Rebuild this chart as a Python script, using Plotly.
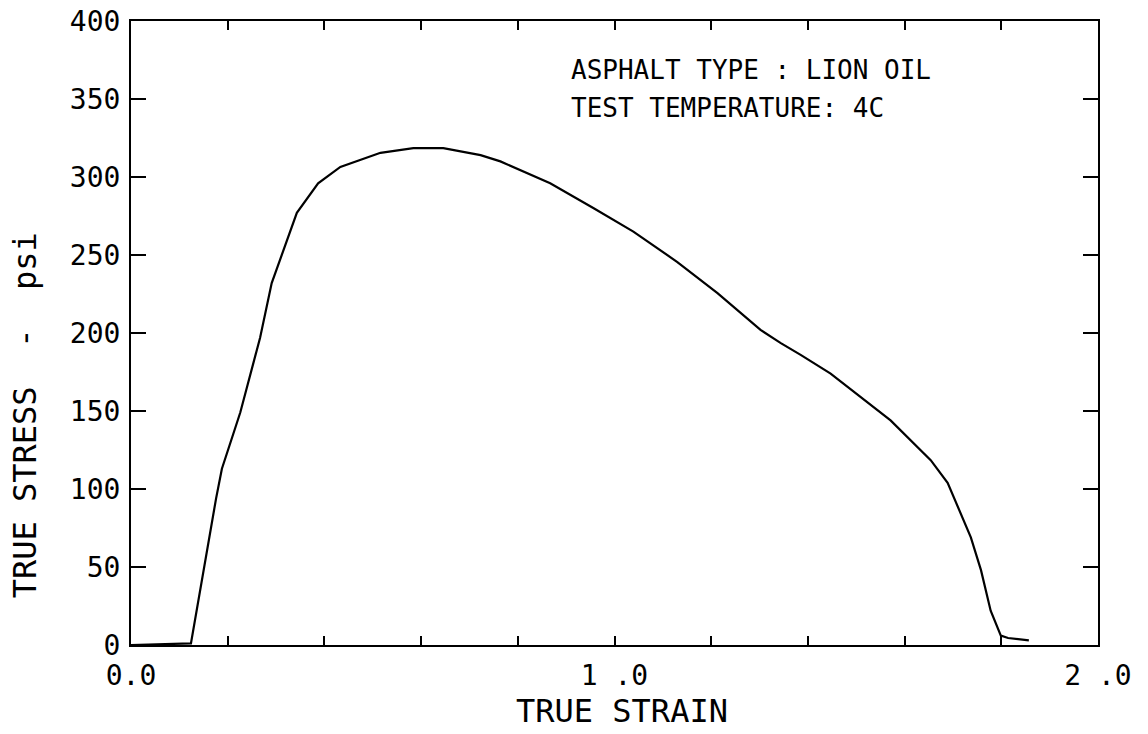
import plotly.graph_objects as go

# Data
strain = [0.0, 0.124, 0.176, 0.188, 0.226, 0.267, 0.291, 0.343, 0.387, 0.433,
          0.516, 0.584, 0.646, 0.723, 0.764, 0.867, 0.957, 1.039, 1.130, 1.213,
          1.302, 1.344, 1.385, 1.447, 1.571, 1.654, 1.689, 1.737, 1.758, 1.778,
          1.799, 1.814, 1.857]
stress = [0, 1, 94, 113, 149, 197, 232, 277, 296, 306.5,
          315.5, 318.5, 318.5, 314, 310, 296, 280, 265, 245.5, 225.5,
          202, 193.5, 186, 174, 144, 118.5, 104, 69, 48, 22,
          6, 4.5, 3]

x_tickvals = [0.0, 0.2, 0.4, 0.6, 0.8, 1.0, 1.2, 1.4, 1.6, 1.8, 2.0]
x_ticktext = ["0.0", "", "", "", "", "1 .0", "", "", "", "", "2 .0"]
y_tickvals = [0, 50, 100, 150, 200, 250, 300, 350, 400]
y_ticktext = ["0", "50", "100", "150", "200", "250", "300", "350", "400"]

info_lines = ["ASPHALT TYPE : LION OIL", "TEST TEMPERATURE: 4C"]
x_title = "TRUE STRAIN"
y_title = "TRUE STRESS  -  psi"

FONT = "DejaVu Sans Mono"

fig = go.Figure()
fig.add_trace(go.Scatter(
    x=strain, y=stress, mode="lines",
    line=dict(color="black", width=2.2),
    showlegend=False, hoverinfo="skip",
))

fig.update_layout(
    width=1148, height=734,
    margin=dict(l=131, r=50, t=21, b=89, autoexpand=False),
    paper_bgcolor="white", plot_bgcolor="white",
    font=dict(family=FONT, color="black", size=27),
    xaxis=dict(
        range=[0, 2.0], tickvals=x_tickvals, ticktext=x_ticktext,
        showgrid=False, zeroline=False, automargin=False,
        showline=True, linecolor="black", linewidth=2, mirror="ticks",
        ticks="inside", ticklen=9, tickwidth=2, tickcolor="black",
        tickfont=dict(family=FONT, size=28), ticklabelstandoff=4,
    ),
    yaxis=dict(
        range=[0, 400], tickvals=y_tickvals, ticktext=y_ticktext,
        showgrid=False, zeroline=False, automargin=False,
        showline=True, linecolor="black", linewidth=2, mirror="ticks",
        ticks="inside", ticklen=15, tickwidth=2, tickcolor="black",
        tickfont=dict(family=FONT, size=28), ticklabelstandoff=3,
    ),
)

fig.add_annotation(x=0.905, y=368.5, xref="x", yref="y", text=info_lines[0],
                   showarrow=False, xanchor="left", yanchor="middle",
                   font=dict(family=FONT, size=26))
fig.add_annotation(x=0.905, y=344, xref="x", yref="y", text=info_lines[1],
                   showarrow=False, xanchor="left", yanchor="middle",
                   font=dict(family=FONT, size=26))
fig.add_annotation(x=1.015, y=-0.106, xref="x", yref="paper", text=x_title,
                   showarrow=False, xanchor="center", yanchor="middle",
                   font=dict(family=FONT, size=32))
fig.add_annotation(x=-0.11, y=147, xref="paper", yref="y", text=y_title,
                   textangle=-90, showarrow=False, xanchor="center", yanchor="middle",
                   font=dict(family=FONT, size=32))

# remove the default 8px page margin so the figure fills the window exactly
fig.write_html("out.html", config={"displayModeBar": False},
               post_script="document.body.style.margin='0px';")
